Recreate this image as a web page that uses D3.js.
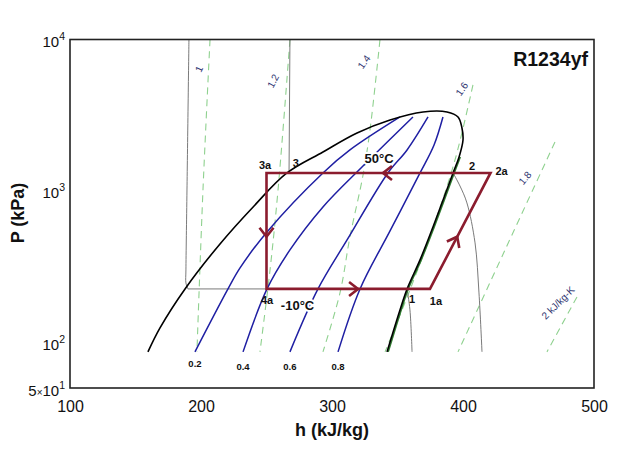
<!DOCTYPE html>
<html><head><meta charset="utf-8">
<script src="https://cdn.jsdelivr.net/npm/d3@7"></script>
<style>
body{margin:0;background:#fff}
text{font-family:Arial,"Liberation Sans",Helvetica,sans-serif}
</style>
</head><body>
<svg id="chart" width="640" height="451"></svg>
<script>
// ---------- data (h in kJ/kg, P in kPa) ----------
const xTicks = [100, 200, 300, 400, 500];
const yTicks = [50, 100, 1000, 10000];
const title = "R1234yf";

// saturation dome (liquid side -> critical region -> vapour side)
const domeH = [159.5,168.7,187.8,214.5,240.5,265.6,293.1,319.1,344.3,369.5,387.8,396.2,399.2,400.0,397.0,392.4,377.1,367.2,357.3,351.9,342.0];
const domeP = [86.6,124.7,225.5,446.9,796.2,1315,1809,2414,2942,3323,3323,3079,2605,2170,1677,1315,578.7,350.5,225.5,163.9,86.6];

// saturated-vapour branch (x = 1), drawn green
const vapH = [397.0,392.4,377.1,367.2,357.3,351.9,342.0];
const vapP = [1677,1315,578.7,350.5,225.5,163.9,86.6];

// constant-quality lines
const qualityLabels = ["0.2","0.4","0.6","0.8"];
const qualityH = [
  [195.4,220.6,229.8,250.4,293.1,313.7,351.9],
  [232.1,250.4,267.9,293.1,322.9,361.8],
  [267.9,289.3,311.5,342.7,357.3,373.3],
  [304.6,321.4,344.3,367.2,377.9,384.7]
];
const qualityP = [
  [86.6,225.5,310.2,536.4,1315,1865,3079],
  [86.6,225.5,408.0,784.5,1440,3079],
  [86.6,225.5,475.0,1315,1865,3079],
  [86.6,225.5,544.6,1315,2012,3079]
];

// constant-entropy lines (kJ/kg-K)
const entropyLabels = ["1","1.2","1.4","1.6","1.8","2 kJ/kg-K"];
const entropyH = [
  [206.9,201.5,196.9],
  [267.9,258.8,252.7,245.0],
  [336.6,329.0,323.7,313.7,306.1,293.1],
  [407.6,393.9,377.9,359.5,340.5],
  [470.2,432.1,396.2],
  [487.0,464.1]
];
const entropyP = [
  [10000,1015,86.6],
  [9924,1015,301,86.6],
  [9924,2527,1275,497.2,212.2,86.6],
  [5008,1602,596.7,222.1,86.6],
  [2105,408.0,86.6],
  [199.7,86.6]
];
const entropyLabelH = [198.5,255.0,324.4,399.2,447.3,472.5];
const entropyLabelP = [6388,5321,7103,4714,1218,182.3];

// isotherms -10 C and 50 C
const isoLowH  = [190.8,189.3,188.5,188.5,190.0,357.3,359.5,361.1];
const isoLowP  = [10000,1015,301,247,225.5,225.5,163.9,86.6];
const isoHighH = [267.9,267.2,392.4,397.7,403.0,409.2,412.2,414.5];
const isoHighP = [10000,1315,1315,1078,833.3,453.8,212.2,86.6];

// refrigeration cycle 4a -> 1a -> 2a -> 3a
const cycleNames = ["4a","1a","2a","3a"];
const cycleH = [250, 374.8, 421, 250];
const cycleP = [225.5, 225.5, 1315, 1315];
const arrowFrac = [0.56, 0.45, 0.48, 0.55];

// other state points on saturation curve
const stateNames = ["1","2","3"];
const stateH = [357.3, 392.4, 265.6];
const stateP = [225.5, 1315, 1315];

const tempLabels = ["50°C","-10°C"];
const tempH = [335.9, 273.7];
const tempP = [1315, 225.5];

// ---------- drawing ----------
const svg = d3.select("#chart");
const L = 70, R = 594, T = 39.5, B = 388;
const x = d3.scaleLinear().domain([100, 500]).range([L, R]);
const y = d3.scaleLog().domain([50, 10000]).range([B, T]);

svg.append("rect").attr("width", 640).attr("height", 451).attr("fill", "#fff");

const zip = (hs, ps) => hs.map((h, i) => [h, ps[i]]);
const line = d3.line().x(d => x(d[0])).y(d => y(d[1])).curve(d3.curveCatmullRom.alpha(0.5));
const lineLin = d3.line().x(d => x(d[0])).y(d => y(d[1]));

// split a polyline at flat (constant-P) runs so corners stay sharp
function pieces(pts) {
  const out = []; let cur = [pts[0]];
  for (let i = 1; i < pts.length; i++) {
    const flat = pts[i][1] === pts[i - 1][1];
    const curFlat = cur.length > 1 && cur[cur.length - 1][1] === cur[cur.length - 2][1];
    if (cur.length > 1 && flat !== curFlat) { out.push(cur); cur = [pts[i - 1]]; }
    cur.push(pts[i]);
  }
  out.push(cur);
  return out;
}

const plot = svg.append("g");

// entropy lines
entropyH.forEach((hs, i) => {
  plot.append("path").attr("d", line(zip(hs, entropyP[i])))
    .attr("fill", "none").attr("stroke", "#8fd18f").attr("stroke-width", 1.1)
    .attr("stroke-dasharray", "7,5");
});
entropyLabels.forEach((t, i) => {
  const px = x(entropyLabelH[i]), py = y(entropyLabelP[i]);
  const rot = [-65, -62, -55, -55, -50, -45][i];
  plot.append("text").attr("transform", `translate(${px},${py}) rotate(${rot})`)
    .attr("text-anchor", "middle").attr("dy", "0.35em")
    .attr("font-size", 10).attr("fill", "#2e3470").text(t);
});

// isotherms
[[isoLowH, isoLowP], [isoHighH, isoHighP]].forEach(([hs, ps]) => {
  pieces(zip(hs, ps)).forEach(pc => {
    plot.append("path").attr("d", line(pc))
      .attr("fill", "none").attr("stroke", "#7a7a7a").attr("stroke-width", 1);
  });
});

// quality lines
qualityH.forEach((hs, i) => {
  plot.append("path").attr("d", line(zip(hs, qualityP[i])))
    .attr("fill", "none").attr("stroke", "#1f1fa3").attr("stroke-width", 1.5);
  plot.append("text").attr("x", x(hs[0])).attr("y", y(qualityP[i][0]) + (i === 0 ? 15.5 : 18))
    .attr("text-anchor", "middle").attr("font-size", 9.5).attr("font-weight", "bold")
    .attr("fill", "#111").text(qualityLabels[i]);
});

// saturated vapour fringe in green, then dome in black
plot.append("path").attr("d", line(zip(vapH, vapP)))
  .attr("transform", "translate(1.2,0)")
  .attr("fill", "none").attr("stroke", "#2f7a2f").attr("stroke-width", 1.6);
plot.append("path").attr("d", line(zip(domeH, domeP)))
  .attr("fill", "none").attr("stroke", "#000").attr("stroke-width", 1.6);

// cycle
const cyc = zip(cycleH, cycleP);
const red = "#8b1c2e";
plot.append("path").attr("d", lineLin(cyc) + "Z")
  .attr("fill", "none").attr("stroke", red).attr("stroke-width", 2.6)
  .attr("stroke-linejoin", "miter");
cyc.forEach((a, i) => {
  const b = cyc[(i + 1) % cyc.length];
  const ax = x(a[0]), ay = y(a[1]), bx = x(b[0]), by = y(b[1]);
  const f = arrowFrac[i];
  const px = ax + f * (bx - ax), py = ay + f * (by - ay);
  const len = Math.hypot(bx - ax, by - ay);
  const ux = (bx - ax) / len, uy = (by - ay) / len;
  const nx = -uy, ny = ux, Lh = 9, W = 7;
  const p1 = [px - Lh * ux + W * nx, py - Lh * uy + W * ny];
  const p2 = [px - Lh * ux - W * nx, py - Lh * uy - W * ny];
  plot.append("path").attr("d", `M${p1[0]},${p1[1]}L${px},${py}L${p2[0]},${p2[1]}`)
    .attr("fill", "none").attr("stroke", red).attr("stroke-width", 2.6);
});

// state labels
const lbl = (t, px, py, size, halo) => {
  const el = plot.append("text").attr("x", px).attr("y", py).attr("text-anchor", "middle")
    .attr("font-size", size).attr("font-weight", "bold").attr("fill", "#111").text(t);
  if (halo) el.attr("stroke", "#fff").attr("stroke-width", 4).attr("paint-order", "stroke");
};
const cycOff = {"4a": [0.5, 15], "1a": [6, 16], "2a": [11, 2], "3a": [-1.5, -4]};
cycleNames.forEach((n, i) => lbl(n, x(cycleH[i]) + cycOff[n][0], y(cycleP[i]) + cycOff[n][1], 11, false));
const stOff = {"1": [5, 14], "2": [19, -3], "3": [9, -6]};
stateNames.forEach((n, i) => lbl(n, x(stateH[i]) + stOff[n][0], y(stateP[i]) + stOff[n][1], 11, false));
lbl(tempLabels[0], x(tempH[0]), y(tempP[0]) - 10, 13, true);
lbl(tempLabels[1], x(tempH[1]), y(tempP[1]) + 21, 13, true);

// frame
svg.append("rect").attr("x", L).attr("y", T).attr("width", R - L).attr("height", B - T)
  .attr("fill", "none").attr("stroke", "#222").attr("stroke-width", 1.6);

// axes (labels only)
const xAxis = d3.axisBottom(x).tickValues(xTicks).tickSize(0).tickPadding(0).tickFormat(d3.format("d"));
const gx = svg.append("g").attr("transform", `translate(0,${B})`).call(xAxis);
gx.select(".domain").remove();
gx.selectAll("text").attr("font-size", 16).attr("fill", "#111").attr("dy", null).attr("y", 24)
  .style("font-family", "Arial, 'Liberation Sans', sans-serif");

const yAxis = d3.axisLeft(y).tickValues(yTicks).tickSize(0).tickPadding(5).tickFormat(() => "");
const gy = svg.append("g").attr("transform", `translate(${L},0)`).call(yAxis);
gy.select(".domain").remove();
gy.selectAll(".tick text").each(function(d) {
  const t = d3.select(this).attr("dy", null).attr("y", 7).attr("font-size", 15).attr("fill", "#111")
    .style("font-family", "Arial, 'Liberation Sans', sans-serif");
  const e = Math.floor(Math.log10(d) + 1e-9);
  const m = Math.round(d / Math.pow(10, e));
  if (m !== 1) {
    t.append("tspan").text(m);
    t.append("tspan").attr("font-size", 10).text("×");
  }
  t.append("tspan").text("10");
  t.append("tspan").attr("font-size", 10.5).attr("dy", -7).text(e);
});

svg.append("text").attr("x", (L + R) / 2).attr("y", 436).attr("text-anchor", "middle")
  .attr("font-size", 18).attr("font-weight", "bold").attr("fill", "#111").text("h (kJ/kg)");
svg.append("text").attr("transform", "translate(24,213) rotate(-90)").attr("text-anchor", "middle")
  .attr("font-size", 18).attr("font-weight", "bold").attr("fill", "#111").text("P (kPa)");
svg.append("text").attr("x", 588).attr("y", 65.5).attr("text-anchor", "end")
  .attr("font-size", 19.5).attr("font-weight", "bold").attr("fill", "#111").text(title);
</script>
</body></html>
